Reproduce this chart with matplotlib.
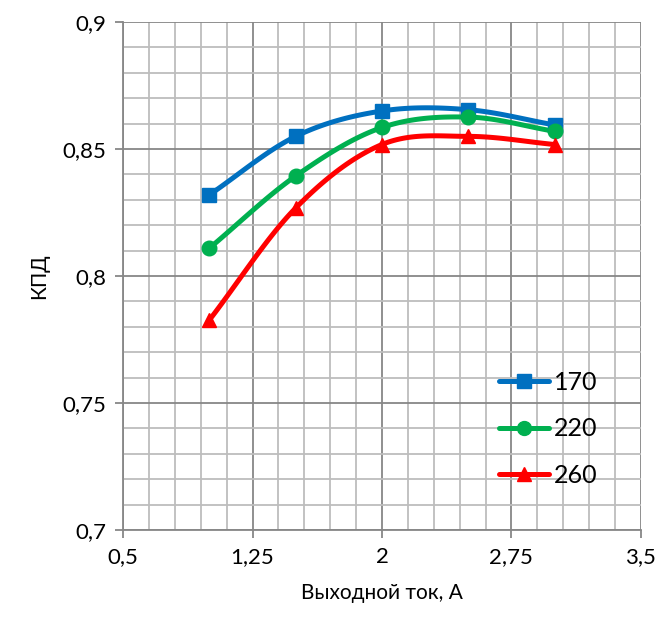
import numpy as np
import matplotlib
matplotlib.use('Agg')
import matplotlib.pyplot as plt
from matplotlib.ticker import FixedLocator

plt.rcParams['font.family'] = ['Lato', 'DejaVu Sans']

current = [1.0, 1.5, 2.0, 2.5, 3.0]
eff_170 = [0.832, 0.855, 0.865, 0.8655, 0.8595]
eff_220 = [0.811, 0.8394, 0.8585, 0.8626, 0.857]
eff_260 = [0.7827, 0.8268, 0.8518, 0.855, 0.8518]
labels = ['170', '220', '260']
colors = ['#0070c0', '#00b050', '#ff0000']
markers = ['s', 'o', '^']

x_ticks = [0.5, 1.25, 2, 2.75, 3.5]
x_ticklabels = ['0,5', '1,25', '2', '2,75', '3,5']
y_ticks = [0.7, 0.75, 0.8, 0.85, 0.9]
y_ticklabels = ['0,7', '0,75', '0,8', '0,85', '0,9']


def smooth(x, y, n=30):
    # Catmull-Rom spline through points, like Excel smoothed lines
    x = np.asarray(x, float)
    y = np.asarray(y, float)
    px = np.concatenate([[2 * x[0] - x[1]], x, [2 * x[-1] - x[-2]]])
    py = np.concatenate([[2 * y[0] - y[1]], y, [2 * y[-1] - y[-2]]])
    xs, ys = [], []
    t = np.linspace(0, 1, n)
    for i in range(1, len(px) - 2):
        for arr, out in ((px, xs), (py, ys)):
            p0, p1, p2, p3 = arr[i - 1], arr[i], arr[i + 1], arr[i + 2]
            c1 = p1 + (p2 - p0) / 6
            c2 = p2 - (p3 - p1) / 6
            out.extend((1 - t) ** 3 * p1 + 3 * (1 - t) ** 2 * t * c1
                       + 3 * (1 - t) * t ** 2 * c2 + t ** 3 * p2)
    return xs, ys


fig = plt.figure(figsize=(6.62, 6.24), dpi=100)
ax = fig.add_axes([0.186, 0.1506, 0.782, 0.814])

for ys, lab, c, m in zip([eff_170, eff_220, eff_260], labels, colors, markers):
    sx, sy = smooth(current, ys)
    ax.plot(sx, sy, color=c, lw=3.6, solid_capstyle='round', zorder=3)
    ax.plot(current, ys, ls='none', marker=m, ms=10 if m != 'o' else 10.5,
            color=c, zorder=4, clip_on=False)
    ax.plot([], [], color=c, lw=3.6, marker=m, ms=10, label=lab,
            solid_capstyle='round')

ax.set_xlim(0.5, 3.5)
ax.set_ylim(0.7, 0.9)
ax.xaxis.set_major_locator(FixedLocator(x_ticks))
ax.xaxis.set_minor_locator(FixedLocator(np.linspace(0.5, 3.5, 21)))
ax.yaxis.set_major_locator(FixedLocator(y_ticks))
ax.yaxis.set_minor_locator(FixedLocator(np.linspace(0.7, 0.9, 21)))
ax.set_xticklabels(x_ticklabels)
ax.set_yticklabels(y_ticklabels)

ax.grid(which='major', color='#878787', lw=1.3)
ax.grid(which='minor', color='#bdbdbd', lw=1.3)
ax.set_axisbelow(True)
for s in ['top', 'right']:
    ax.spines[s].set_visible(False)
for s in ['left', 'bottom']:
    ax.spines[s].set_color('#878787')
    ax.spines[s].set_linewidth(1.3)
ax.tick_params(which='major', length=6, width=1.3, color='#878787',
               labelsize=16, pad=6)
ax.tick_params(which='minor', length=0)

ax.set_xlabel('Выходной ток, А', fontsize=15, labelpad=12)
ax.set_ylabel('КПД', fontsize=15, labelpad=10)

ax.legend(loc='lower right', bbox_to_anchor=(0.96, 0.04), frameon=False,
          fontsize=18, handlelength=2.0, labelspacing=0.95, handletextpad=0.2)

fig.savefig('out.png', dpi=100)
